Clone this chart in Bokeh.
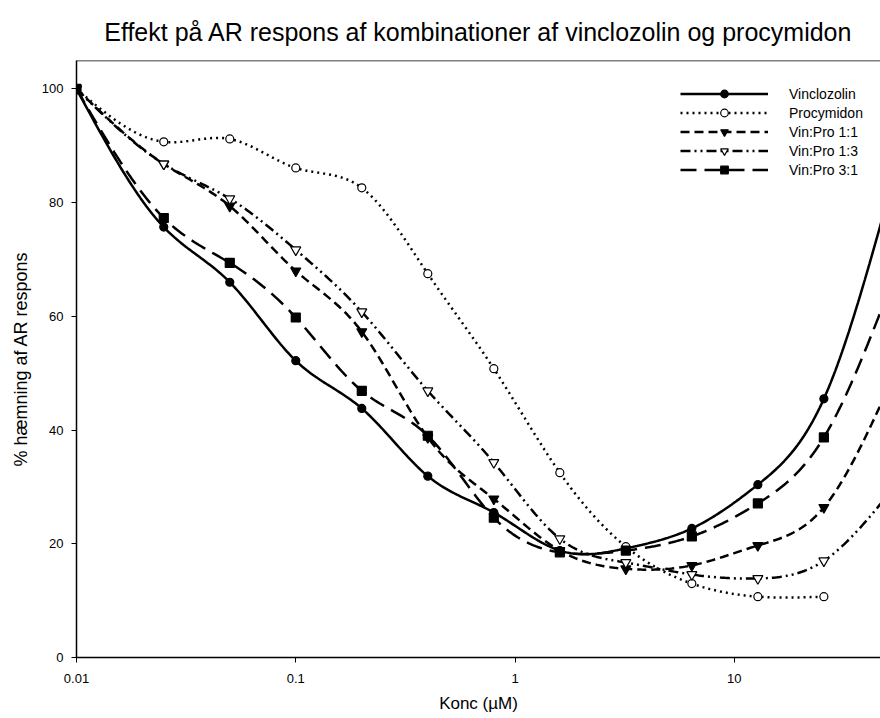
import numpy as np
from bokeh.plotting import figure
from bokeh.models import (Range1d, FixedTicker, CustomJSTickFormatter, Legend,
                          LegendItem, Span)
from bokeh.embed import file_html
from bokeh.resources import INLINE

# ---- data ----
conc = [0.01, 0.025, 0.05, 0.1, 0.2, 0.4, 0.8, 1.6, 3.2, 6.4, 12.8, 25.6, 51.2]
vinclozolin = [100, 75.7, 66.0, 52.2, 43.8, 31.9, 25.5, 18.8, 19.2, 22.7, 30.4, 45.5, 82]
procymidon = [100, 90.7, 91.2, 86.1, 82.6, 67.5, 50.8, 32.5, 19.5, 13.0, 10.7, 10.7]
vinpro_11 = [100, 86.8, 79.4, 68.0, 57.3, 38.7, 27.9, 18.8, 15.6, 16.2, 19.7, 26.4, 48]
vinpro_13 = [100, 86.8, 80.7, 71.7, 60.8, 46.9, 34.3, 20.9, 16.7, 14.6, 13.9, 17.0, 29]
vinpro_31 = [100, 77.3, 69.4, 59.8, 46.9, 39.0, 24.6, 18.5, 18.8, 21.3, 27.1, 38.7, 65]

series_names = ["Vinclozolin", "Procymidon", "Vin:Pro 1:1", "Vin:Pro 1:3", "Vin:Pro 3:1"]
x_ticks = [0.01, 0.1, 1, 10]
y_ticks = [0, 20, 40, 60, 80, 100]

FONT = "Liberation Sans"


def smooth(xs, ys, n=30):
    """Natural cubic spline through the points in log10(x) space (for drawing)."""
    u = np.log10(np.asarray(xs, float))
    y = np.asarray(ys, float)
    m = len(u)
    h = np.diff(u)
    A = np.zeros((m, m))
    b = np.zeros(m)
    A[0, 0] = 1
    A[-1, -1] = 1
    for i in range(1, m - 1):
        A[i, i - 1] = h[i - 1]
        A[i, i] = 2 * (h[i - 1] + h[i])
        A[i, i + 1] = h[i]
        b[i] = 6 * ((y[i + 1] - y[i]) / h[i] - (y[i] - y[i - 1]) / h[i - 1])
    M = np.linalg.solve(A, b)
    us, vs = [], []
    for i in range(m - 1):
        t = np.linspace(u[i], u[i + 1], n, endpoint=(i == m - 2))
        a = u[i + 1] - t
        c = t - u[i]
        v = ((M[i] * a ** 3 + M[i + 1] * c ** 3) / (6 * h[i])
             + (y[i] / h[i] - M[i] * h[i] / 6) * a
             + (y[i + 1] / h[i] - M[i + 1] * h[i] / 6) * c)
        us.append(t)
        vs.append(v)
    return 10 ** np.concatenate(us), np.concatenate(vs)


p = figure(width=880, height=718, x_axis_type="log",
           x_range=Range1d(0.01, 46.4), y_range=Range1d(0, 105),
           output_backend="svg", toolbar_location=None,
           min_border_left=76, min_border_right=0,
           min_border_top=60, min_border_bottom=61,
           title="Effekt på AR respons af kombinationer af vinclozolin og procymidon")

p.title.text_font = FONT
p.title.text_font_size = "25px"
p.title.text_font_style = "normal"
p.title.text_color = "black"
p.title.align = "center"
p.title.standoff = 29

p.grid.visible = False
p.outline_line_color = None
p.background_fill_color = "white"
p.border_fill_color = "white"

p.add_layout(Span(location=105, dimension="width", line_color="black", line_width=1.5))

for ax in (p.xaxis[0], p.yaxis[0]):
    ax.axis_line_width = 1.5
    ax.axis_line_color = "black"
    ax.major_tick_line_color = "black"
    ax.major_tick_line_width = 1
    ax.major_tick_out = 5
    ax.major_tick_in = 0
    ax.minor_tick_line_color = None
    ax.major_label_text_font = FONT
    ax.major_label_text_font_size = "13px"
    ax.major_label_text_color = "black"
    ax.axis_label_text_font = FONT
    ax.axis_label_text_font_size = "17px"
    ax.axis_label_text_font_style = "normal"
    ax.axis_label_text_color = "black"

p.xaxis.ticker = FixedTicker(ticks=x_ticks, minor_ticks=[])
p.xaxis.formatter = CustomJSTickFormatter(code="return tick.toString();")
p.xaxis.major_label_standoff = 11
p.xaxis.axis_label = "Konc (\u00b5M)"
p.xaxis.axis_label_standoff = 8

p.yaxis.ticker = FixedTicker(ticks=y_ticks, minor_ticks=[])
p.yaxis.major_label_standoff = 8
p.yaxis.axis_label = "% hæmning af AR respons"
p.yaxis.axis_label_text_font_size = "18px"
p.yaxis.axis_label_standoff = 8

styles = [
    dict(data=vinclozolin, dash="solid", marker="circle", fill="black", size=8),
    dict(data=procymidon, dash="2 4", marker="circle", fill="white", size=8),
    dict(data=vinpro_11, dash="9 5", marker="inverted_triangle", fill="black", size=10),
    dict(data=vinpro_13, dash="10 4 2 4 2 4", marker="inverted_triangle", fill="white", size=10),
    dict(data=vinpro_31, dash="16 8", marker="square", fill="black", size=9),
]

items = []
for name, st in zip(series_names, styles):
    ys = st["data"]
    xs = conc[:len(ys)]
    sx, sy = smooth(xs, ys)
    lr = p.line(sx, sy, line_color="black", line_width=2.5, line_dash=st["dash"])
    mr = p.scatter(xs, ys, marker=st["marker"], size=st["size"],
                   fill_color=st["fill"], line_color="black", line_width=1.2)
    items.append(LegendItem(label=name, renderers=[lr, mr]))

legend = Legend(items=items, location=(604, 478), orientation="vertical",
                glyph_width=88, glyph_height=19, label_height=19, spacing=0,
                label_standoff=21, padding=0, margin=0,
                label_text_font=FONT, label_text_font_size="14px",
                label_text_color="black",
                border_line_color=None, background_fill_alpha=0)
p.add_layout(legend)

open("out.html", "w").write(file_html(p, INLINE))
